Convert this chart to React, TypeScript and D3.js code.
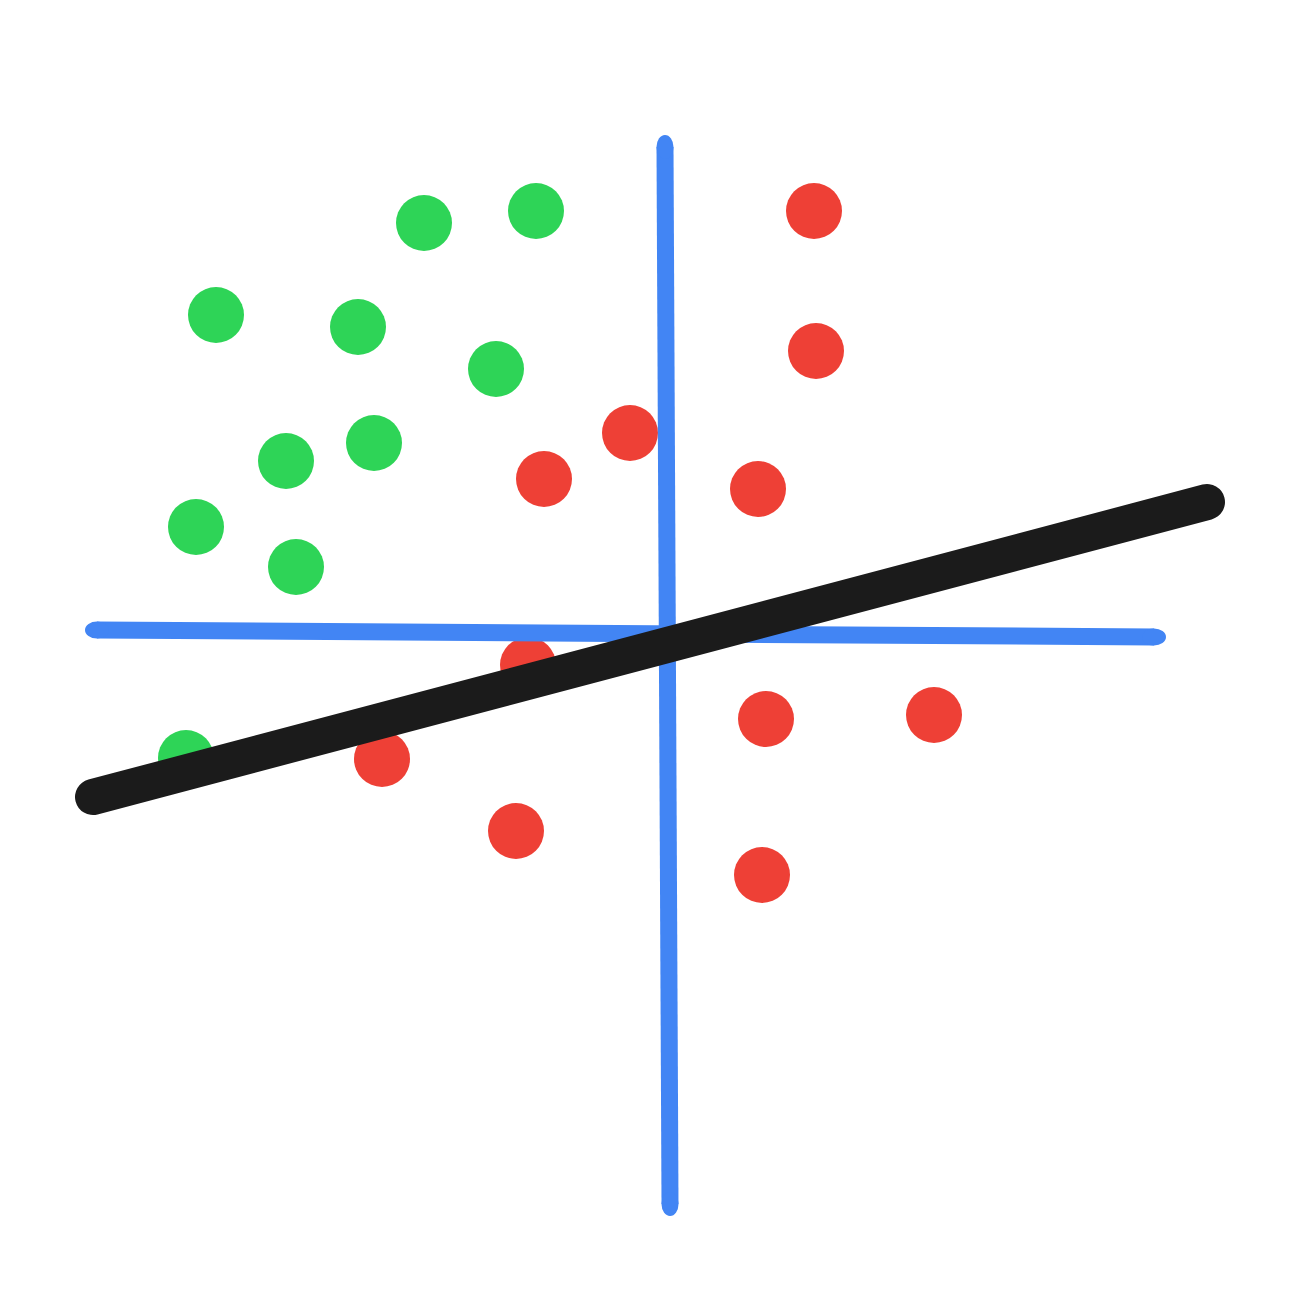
import React, { useRef, useEffect } from "react";
import * as d3 from "d3";

// points in axis units, origin where the blue axes cross
const greenX = [-24.3, -13.1, -45.1, -30.9, -17.1, -38.1, -29.3, -47.1, -37.1, -48.1];
const greenY = [41.1, 42.3, 31.9, 30.7, 26.5, 17.3, 19.1, 10.7, 6.7, -12.4];

const redX = [14.7, 14.9, -3.7, -12.3, 9.1, -13.9, 9.9, 26.7, -28.5, -15.1, 9.5];
const redY = [42.3, 28.3, 20.1, 15.5, 14.5, -3.1, -8.5, -8.1, -12.5, -19.7, -24.1];

// hand-drawn axes (start, end)
const vAxisX = [-0.2, 0.3];
const vAxisY = [48.7, -57.0];
const hAxisX = [-57.0, 48.7];
const hAxisY = [0.4, -0.3];

// separating line
const fitX = [-57.4, 54.0];
const fitY = [-16.3, 13.2];

const App: React.FC = () => {
    const svgRef = useRef<SVGSVGElement | null>(null);

    useEffect(() => {
        if (!svgRef.current) return;

        const width = 1307;
        const height = 1307;

        const x = d3.scaleLinear().domain([-60, 60]).range([67, 1267]);
        const y = d3.scaleLinear().domain([-60, 60]).range([1234, 34]);

        const svg = d3.select(svgRef.current)
            .attr("width", width)
            .attr("height", height)
            .attr("viewBox", `0 0 ${width} ${height}`)
            .style("position", "absolute")
            .style("left", "0px")
            .style("top", "0px")
            .style("background", "#ffffff");

        svg.selectAll("*").remove();

        const line = d3.line<[number, number]>()
            .x(d => x(d[0]))
            .y(d => y(d[1]));

        const pts = (xs: number[], ys: number[]) => xs.map((v, i) => [v, ys[i]] as [number, number]);

        svg.append("g")
            .selectAll("circle")
            .data(pts(greenX, greenY))
            .join("circle")
            .attr("cx", d => x(d[0]))
            .attr("cy", d => y(d[1]))
            .attr("r", 28)
            .attr("fill", "#2ed457");

        svg.append("g")
            .selectAll("circle")
            .data(pts(redX, redY))
            .join("circle")
            .attr("cx", d => x(d[0]))
            .attr("cy", d => y(d[1]))
            .attr("r", 28)
            .attr("fill", "#ee4036");

        // blue axes: butt stroke + elongated marker-like ends
        const axes = [pts(vAxisX, vAxisY), pts(hAxisX, hAxisY)];
        const axisG = svg.append("g");

        axisG.selectAll("path")
            .data(axes)
            .join("path")
            .attr("fill", "none")
            .attr("stroke", "#4285f4")
            .attr("stroke-width", 17)
            .attr("d", d => line(d)!);

        const ends = axes.flatMap(a => {
            const ang = Math.atan2(y(a[1][1]) - y(a[0][1]), x(a[1][0]) - x(a[0][0])) * 180 / Math.PI;
            return a.map(p => ({ p, ang }));
        });

        axisG.selectAll("ellipse")
            .data(ends)
            .join("ellipse")
            .attr("cx", 0)
            .attr("cy", 0)
            .attr("rx", 12)
            .attr("ry", 8.5)
            .attr("fill", "#4285f4")
            .attr("transform", d => `translate(${x(d.p[0])},${y(d.p[1])}) rotate(${d.ang})`);

        svg.append("path")
            .attr("fill", "none")
            .attr("stroke", "#1b1b1b")
            .attr("stroke-width", 36)
            .attr("stroke-linecap", "round")
            .attr("d", line(pts(fitX, fitY))!);
    }, []);

    return <svg ref={svgRef} />;
};

export default App;
